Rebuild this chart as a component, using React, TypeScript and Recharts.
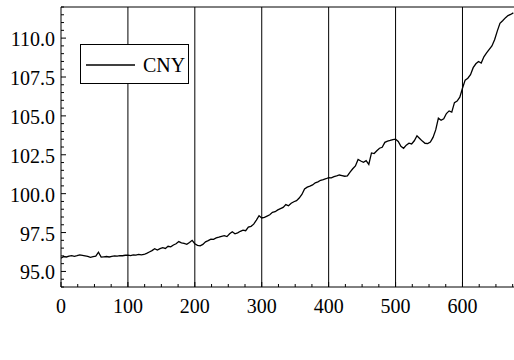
import React from 'react';
import {
  LineChart,
  Line,
  XAxis,
  YAxis,
  ReferenceLine,
  Legend
} from 'recharts';

// CNY index, one value every 4 trading days starting at day 0
const cny = [
  95.85, 95.96, 95.93, 95.99, 96.02, 95.97, 96.01, 96.06, 96.03, 96.0,
  95.97, 95.91, 95.95, 95.98, 96.24, 95.92, 95.94, 95.96, 95.93, 95.97,
  96.0, 95.98, 96.02, 96.01, 96.04, 96.05, 96.02, 96.07, 96.05, 96.1,
  96.06, 96.09, 96.16, 96.25, 96.34, 96.46, 96.38, 96.47, 96.53, 96.48,
  96.62, 96.58, 96.7, 96.78, 96.92, 96.84, 96.8, 96.74, 96.86, 97.0,
  96.78, 96.68, 96.64, 96.74, 96.9, 96.98, 97.08, 97.06, 97.16, 97.2,
  97.26, 97.3, 97.24, 97.42, 97.55, 97.42, 97.48, 97.58, 97.66, 97.62,
  97.85, 97.9, 98.04, 98.3, 98.58, 98.44, 98.48, 98.56, 98.64, 98.8,
  98.84, 98.96, 99.04, 99.12, 99.3, 99.22, 99.38, 99.48, 99.55, 99.72,
  99.95, 100.3, 100.42, 100.48, 100.56, 100.7, 100.76, 100.86, 100.9, 100.96,
  101.03, 101.02, 101.1, 101.14, 101.2, 101.16, 101.12, 101.14, 101.38, 101.6,
  101.78, 102.2, 102.1, 102.02, 102.12, 101.88, 102.62, 102.58, 102.76, 102.92,
  102.98, 103.3, 103.38, 103.42, 103.48, 103.5, 103.36, 103.05, 102.92, 103.12,
  103.25, 103.2, 103.4, 103.72, 103.55, 103.38, 103.24, 103.22, 103.32, 103.62,
  104.1, 104.85, 104.72, 104.82, 105.15, 105.32, 105.24, 105.85, 105.95, 106.2,
  106.78, 107.3, 107.42, 107.65, 108.1, 108.35, 108.5, 108.4, 108.8, 109.05,
  109.28, 109.5, 109.9, 110.45, 110.95, 111.12, 111.3, 111.45, 111.52, 111.62
];
const days = cny.map((_, i) => i * 4);

const xLabels = [0, 100, 200, 300, 400, 500, 600];
const yLabels = [95, 97.5, 100, 102.5, 105, 107.5, 110];
const gridDays = [100, 200, 300, 400, 500, 600];

// minor ticks: every 25 days and every 0.5 on the index
const xTicks = Array.from({ length: 28 }, (_, i) => i * 25);
const yTicks = Array.from({ length: 37 }, (_, i) => 94 + i * 0.5);

const data = days.map((d, i) => ({ day: d, CNY: cny[i] }));

const SERIF = "'Liberation Serif', 'Times New Roman', Times, 'DejaVu Serif', serif";
const textStyle = { fontFamily: SERIF, fontSize: 20, fill: '#000' };

function XTick({ x, y, payload }: any) {
  const major = xLabels.includes(payload.value);
  return (
    <g>
      <line x1={x} y1={y} x2={x} y2={y - (major ? 5 : 3)} stroke="#000" />
      {major && (
        <text x={x} y={y + 26} textAnchor="middle" fontFamily={SERIF} style={textStyle}>
          {payload.value}
        </text>
      )}
    </g>
  );
}

function YTick({ x, y, payload }: any) {
  const major = yLabels.includes(payload.value);
  return (
    <g>
      <line x1={x} y1={y} x2={x + (major ? 5 : 3)} y2={y} stroke="#000" />
      {major && (
        <text x={x - 6} y={y + 8} textAnchor="end" fontFamily={SERIF} style={textStyle}>
          {payload.value.toFixed(1)}
        </text>
      )}
    </g>
  );
}

function LegendBox() {
  return (
    <div style={{ width: 107, height: 38, border: '1px solid #000', background: '#fff', position: 'relative' }}>
      <svg width={107} height={38} style={{ position: 'absolute', left: 0, top: 0 }}>
        <line x1={5} y1={20} x2={54} y2={20} stroke="#000" strokeWidth={1.3} />
        <text x={62} y={27} fontFamily={SERIF} style={textStyle}>CNY</text>
      </svg>
    </div>
  );
}

export default function App() {
  return (
    <div style={{ position: 'absolute', left: 0, top: 0, width: 514, height: 360, background: '#fff', fontFamily: SERIF }}>
      <LineChart
        width={514}
        height={360}
        data={data}
        margin={{ top: 7, right: 0, bottom: 0, left: 0 }}
        style={{ fontFamily: SERIF }}
      >
        <XAxis
          dataKey="day"
          type="number"
          domain={[0, 677]}
          ticks={xTicks}
          interval={0}
          tickSize={0}
          tickMargin={0}
          tickLine={false}
          tick={<XTick />}
          height={33}
          stroke="#000"
          allowDataOverflow
        />
        <YAxis
          type="number"
          domain={[94, 112]}
          ticks={yTicks}
          interval={0}
          tickSize={0}
          tickMargin={0}
          tickLine={false}
          tick={<YTick />}
          width={61}
          stroke="#000"
          allowDataOverflow
        />
        {gridDays.map(d => (
          <ReferenceLine key={d} x={d} stroke="#000" strokeWidth={1} />
        ))}
        <ReferenceLine y={112} stroke="#000" strokeWidth={1} />
        <Legend
          content={() => <LegendBox />}
          wrapperStyle={{ left: 80, top: 44, width: 'auto', bottom: 'auto' }}
        />
        <Line
          type="linear"
          dataKey="CNY"
          stroke="#000"
          strokeWidth={1.3}
          dot={false}
          isAnimationActive={false}
        />
      </LineChart>
    </div>
  );
}
